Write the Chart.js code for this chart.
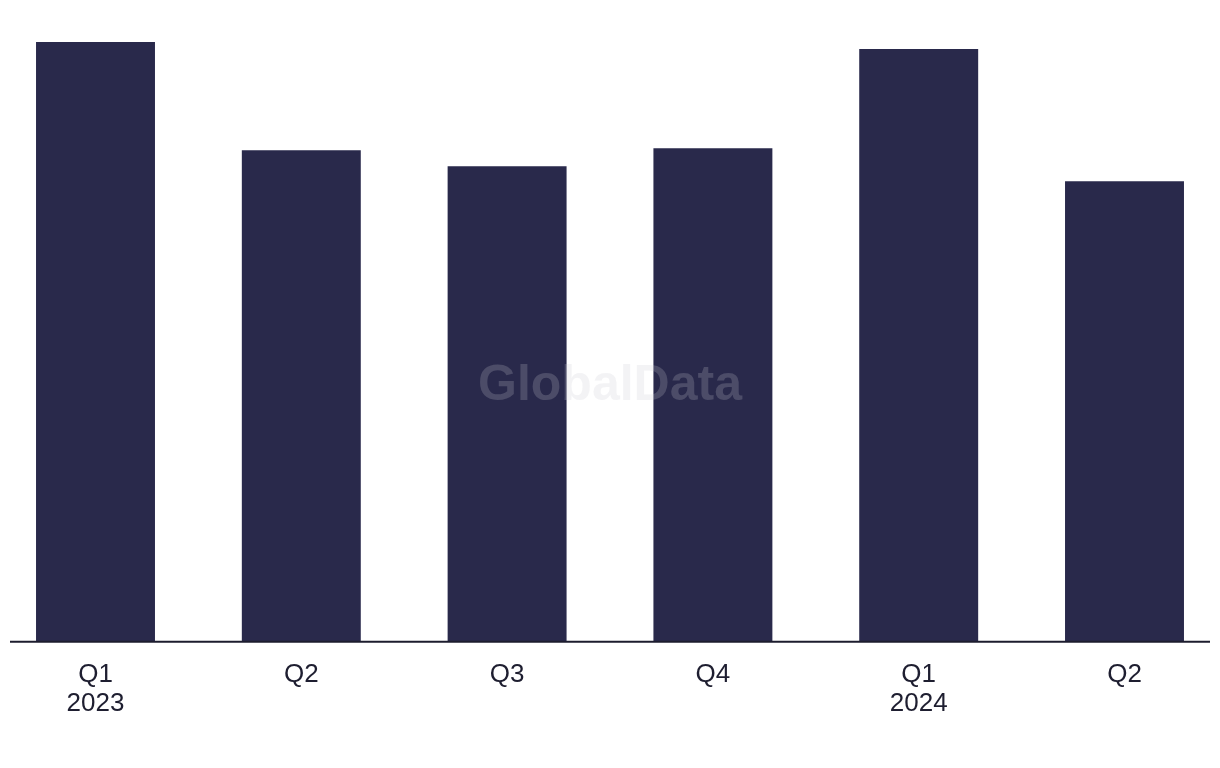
<!DOCTYPE html>
<html>
<head>
<meta charset="utf-8">
<script src="https://cdn.jsdelivr.net/npm/chart.js@4/dist/chart.umd.min.js"></script>
<style>
  html, body { margin: 0; padding: 0; background: #fff; }
  #wrap { width: 1220px; height: 768px; }
</style>
</head>
<body>
<div id="wrap"><canvas id="barChart"></canvas></div>
<script>
// data (no y axis shown, relative values)
const quarters = [['Q1', '2023'], 'Q2', 'Q3', 'Q4', ['Q1', '2024'], 'Q2'];
const values   = [599, 491, 475, 493, 592, 460];

// baseline across the full width + watermark
const extras = {
  id: 'extras',
  afterDatasetsDraw(chart) {
    const { ctx, scales: { y } } = chart;
    const base = y.getPixelForValue(0);
    ctx.save();
    ctx.strokeStyle = '#1c1c2e';
    ctx.lineWidth = 2;
    ctx.beginPath();
    ctx.moveTo(10, base);
    ctx.lineTo(chart.width - 10, base);
    ctx.stroke();

    ctx.fillStyle = 'rgba(200,200,210,0.22)';
    ctx.font = 'bold 50px "Liberation Sans", Arial, sans-serif';
    ctx.textAlign = 'center';
    ctx.textBaseline = 'middle';
    ctx.fillText('GlobalData', 610, 386);
    ctx.restore();
  }
};

new Chart(document.getElementById('barChart').getContext('2d'), {
  type: 'bar',
  data: {
    labels: quarters,
    datasets: [{
      data: values,
      backgroundColor: '#29294b',
      borderWidth: 0,
      barPercentage: 0.578,
      categoryPercentage: 1,
      clip: false
    }]
  },
  options: {
    responsive: true, maintainAspectRatio: false, animation: false,
    layout: { padding: { left: 95.5, right: 95.5, top: 41, bottom: 31 } },
    scales: {
      x: {
        offset: false,
        grid: { display: false, drawTicks: false },
        border: { display: false },
        ticks: {
          padding: 18, maxRotation: 0, autoSkip: false,
          color: '#1e1e30',
          font: { family: '"Liberation Sans", Arial, sans-serif', size: 26, lineHeight: 1.14 }
        }
      },
      y: {
        display: false, min: 0, max: 600,
        grid: { display: false }
      }
    },
    plugins: { legend: { display: false }, tooltip: { enabled: false } }
  },
  plugins: [extras]
});
</script>
</body>
</html>
